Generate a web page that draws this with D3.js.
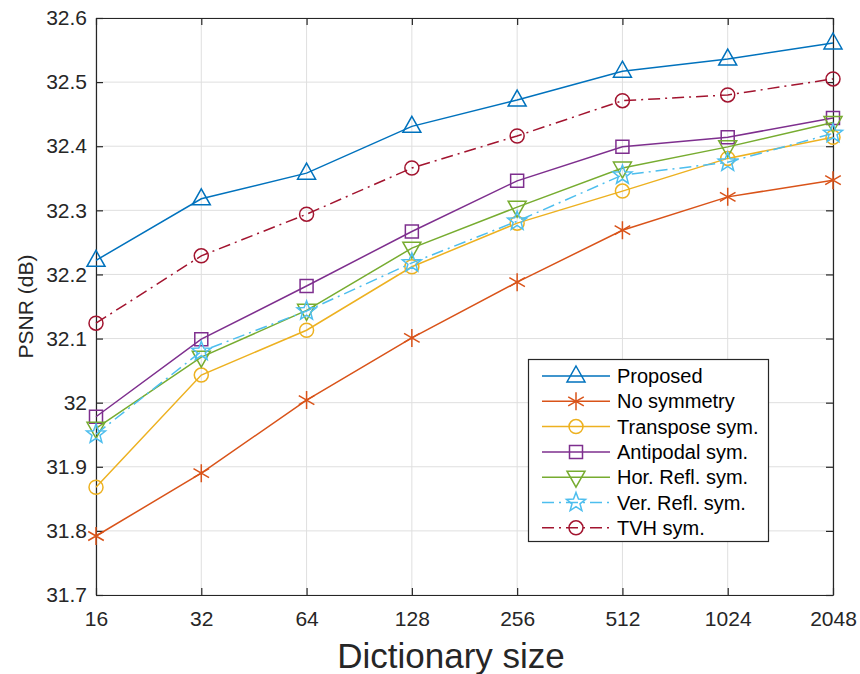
<!DOCTYPE html>
<html lang="en">
<head>
<meta charset="utf-8">
<script src="https://cdn.jsdelivr.net/npm/d3@7"></script>
<style>
  body { margin: 0; background: #fff; font-family: "Liberation Sans", Arial, sans-serif; }
</style>
</head>
<body>
<script>
// dictionary sizes (x axis, log2 spaced)
var sizes = [16, 32, 64, 128, 256, 512, 1024, 2048];
var yTicks = [31.7, 31.8, 31.9, 32, 32.1, 32.2, 32.3, 32.4, 32.5, 32.6];

// PSNR values
var proposed   = [32.222, 32.318, 32.358, 32.431, 32.472, 32.517, 32.536, 32.561];
var noSym      = [31.792, 31.890, 32.004, 32.101, 32.188, 32.269, 32.321, 32.347];
var transpose  = [31.868, 32.043, 32.113, 32.212, 32.280, 32.330, 32.381, 32.414];
var antipodal  = [31.978, 32.099, 32.182, 32.267, 32.346, 32.399, 32.414, 32.444];
var horRefl    = [31.960, 32.071, 32.144, 32.241, 32.305, 32.366, 32.399, 32.437];
var verRefl    = [31.951, 32.080, 32.143, 32.218, 32.283, 32.355, 32.375, 32.420];
var tvh        = [32.124, 32.229, 32.294, 32.366, 32.416, 32.471, 32.480, 32.505];

var dashDot = "12,5,2,5";
var series = [
  {name: "Proposed",          values: proposed,  color: "#0072BD", marker: "triUp",   dash: null},
  {name: "No symmetry",       values: noSym,     color: "#D95319", marker: "asterisk", dash: null},
  {name: "Transpose sym.",    values: transpose, color: "#EDB120", marker: "circle",  dash: null},
  {name: "Antipodal sym.",    values: antipodal, color: "#7E2F8E", marker: "square",  dash: null},
  {name: "Hor. Refl. sym.",   values: horRefl,   color: "#77AC30", marker: "triDown", dash: null},
  {name: "Ver. Refl. sym.",   values: verRefl,   color: "#4DBEEE", marker: "star",    dash: dashDot},
  {name: "TVH sym.",          values: tvh,       color: "#A2142F", marker: "circle",  dash: dashDot}
];

var W = 860, H = 674;
var mLeft = 96, mRight = 833, mTop = 18, mBottom = 595;

var svg = d3.select("body").append("svg")
  .attr("width", W).attr("height", H);

var x = d3.scaleLog().base(2).domain([16, 2048]).range([mLeft, mRight]);
var y = d3.scaleLinear().domain([31.7, 32.6]).range([mBottom, mTop]);

// grid
var grid = svg.append("g");
grid.selectAll(".gx").data(sizes).enter().append("line")
  .attr("x1", function(d) { return x(d); }).attr("x2", function(d) { return x(d); })
  .attr("y1", mTop).attr("y2", mBottom)
  .attr("stroke", "#dfdfdf").attr("stroke-width", 1);
grid.selectAll(".gy").data(yTicks).enter().append("line")
  .attr("x1", mLeft).attr("x2", mRight)
  .attr("y1", function(d) { return y(d); }).attr("y2", function(d) { return y(d); })
  .attr("stroke", "#dfdfdf").attr("stroke-width", 1);

// axes (ticks inward, mirrored on top/right)
var fmtY = function(d) { return String(+d.toFixed(1)); };
function styleAxis(g) {
  g.attr("font-family", "Liberation Sans, Arial, sans-serif").attr("font-size", 21);
  g.select(".domain").attr("stroke", "#262626").attr("stroke-width", 1.2);
  g.selectAll(".tick line").attr("stroke", "#262626").attr("stroke-width", 1.2);
  g.selectAll(".tick text").attr("fill", "#262626");
}
svg.append("g").attr("transform", "translate(0," + mBottom + ")")
  .call(d3.axisBottom(x).tickValues(sizes).tickFormat(d3.format("d")).tickSizeInner(-7).tickSizeOuter(0).tickPadding(16))
  .call(styleAxis);
svg.append("g").attr("transform", "translate(0," + mTop + ")")
  .call(d3.axisTop(x).tickValues(sizes).tickFormat("").tickSizeInner(-7).tickSizeOuter(0))
  .call(styleAxis);
svg.append("g").attr("transform", "translate(" + mLeft + ",0)")
  .call(d3.axisLeft(y).tickValues(yTicks).tickFormat(fmtY).tickSizeInner(-7).tickSizeOuter(0).tickPadding(9))
  .call(styleAxis);
svg.append("g").attr("transform", "translate(" + mRight + ",0)")
  .call(d3.axisRight(y).tickValues(yTicks).tickFormat("").tickSizeInner(-7).tickSizeOuter(0))
  .call(styleAxis);

// axis labels
svg.append("text").attr("x", 451).attr("y", 668)
  .attr("text-anchor", "middle").attr("fill", "#262626")
  .style("font-size", "35px").text("Dictionary size");
svg.append("text").attr("transform", "translate(33," + ((mTop + mBottom) / 2) + ") rotate(-90)")
  .attr("text-anchor", "middle").attr("fill", "#262626")
  .style("font-size", "21px").text("PSNR (dB)");

// marker drawing
function drawMarker(g, type, cx, cy, color) {
  var m = g.append("path").attr("fill", "none").attr("stroke", color).attr("stroke-width", 1.5)
    .attr("transform", "translate(" + cx + "," + cy + ")");
  var p;
  if (type === "triUp") {
    p = "M0,-10L9,6L-9,6Z";
  } else if (type === "triDown") {
    p = "M0,10L9,-6L-9,-6Z";
  } else if (type === "square") {
    p = "M-6.5,-6.5H6.5V6.5H-6.5Z";
  } else if (type === "circle") {
    p = "M7,0A7,7 0 1,1 -7,0A7,7 0 1,1 7,0Z";
  } else if (type === "asterisk") {
    var r = 9, s = r * Math.cos(Math.PI / 6), c = r * 0.5;
    p = "M0," + (-r) + "V" + r +
        "M" + (-s) + "," + (-c) + "L" + s + "," + c +
        "M" + (-s) + "," + c + "L" + s + "," + (-c);
  } else if (type === "star") {
    var pts = [];
    for (var i = 0; i < 10; i++) {
      var rr = i % 2 === 0 ? 10 : 4.2;
      var a = -Math.PI / 2 + i * Math.PI / 5;
      pts.push([rr * Math.cos(a), rr * Math.sin(a)]);
    }
    p = "M" + pts.map(function(q) { return q[0].toFixed(2) + "," + q[1].toFixed(2); }).join("L") + "Z";
  }
  m.attr("d", p);
}

var line = d3.line()
  .x(function(d, i) { return x(sizes[i]); })
  .y(function(d) { return y(d); });

series.forEach(function(s) {
  var g = svg.append("g");
  g.append("path").datum(s.values)
    .attr("d", line).attr("fill", "none")
    .attr("stroke", s.color).attr("stroke-width", 1.5)
    .attr("stroke-dasharray", s.dash);
  s.values.forEach(function(v, i) {
    drawMarker(g, s.marker, x(sizes[i]), y(v), s.color);
  });
});

// legend
var lg = svg.append("g");
lg.append("rect").attr("x", 528.5).attr("y", 359.5).attr("width", 240).attr("height", 182)
  .attr("fill", "#fff").attr("stroke", "#262626").attr("stroke-width", 1.2);
series.forEach(function(s, i) {
  var yy = 376 + i * 25.3;
  lg.append("line").attr("x1", 542).attr("x2", 610).attr("y1", yy).attr("y2", yy)
    .attr("stroke", s.color).attr("stroke-width", 1.5)
    .attr("stroke-dasharray", s.dash);
  drawMarker(lg, s.marker, 576, yy, s.color);
  lg.append("text").attr("x", 617).attr("y", yy + 7)
    .attr("fill", "#000").style("font-size", "20px").text(s.name);
});
</script>
</body>
</html>
